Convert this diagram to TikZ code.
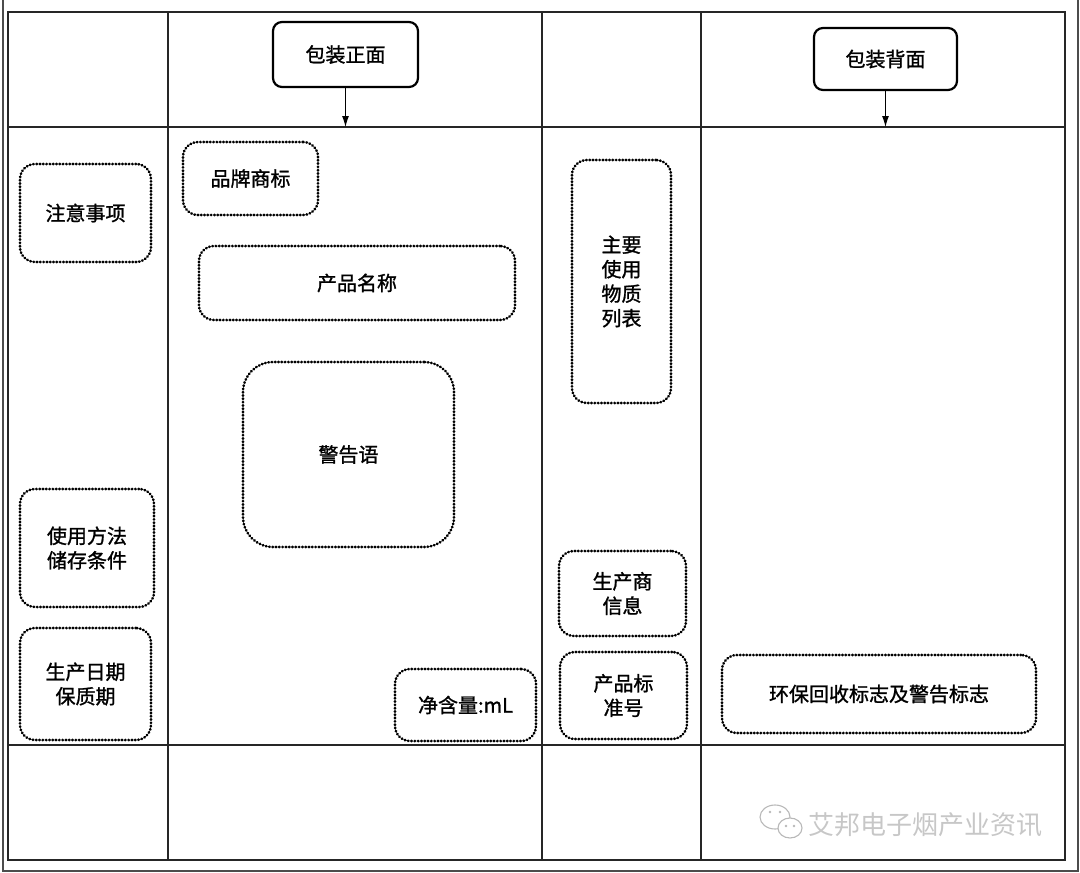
\documentclass[tikz,border=0pt]{standalone}
\usepackage{fontspec}
\newfontfamily\cjk[FakeBold=1.2]{Noto Sans CJK SC}
\newfontfamily\cjkwm{Noto Sans CJK SC}
\usetikzlibrary{arrows.meta}
\begin{document}
\begin{tikzpicture}[x=1pt,y=-1pt,
  gridline/.style={line width=1.4pt, draw=black!85},
  frameline/.style={line width=2pt, draw=black!70},
  headbox/.style={draw, line width=2.2pt, rounded corners=9pt, inner sep=0pt,
    font=\cjk\fontsize{20}{24}\selectfont},
  dotbox/.style={draw, line width=2.6pt, dash pattern=on 0.6pt off 2.7pt, line cap=round,
    rounded corners=15pt, inner sep=0pt, align=center,
    font=\cjk\fontsize{20}{24.5}\selectfont},
  arr/.style={-{Latex[length=11pt,width=7pt]}, line width=1pt},
  wm/.style={draw=black!28, line width=1.1pt}]
\useasboundingbox (0,0) rectangle (1080,873);
% outer frame
\draw[frameline] (2.5,0) -- (2.5,871) -- (1078,871) -- (1078,0);
% table grid
\draw[gridline] (8,12) rectangle (1065,860);
\foreach \x in {168,542,701} \draw[gridline] (\x,12) -- (\x,860);
\foreach \y in {127,745} \draw[gridline] (8,\y) -- (1065,\y);
% header boxes
\node[headbox, minimum width=145pt, minimum height=65pt] (front) at (345.5,54.5) {包装正面};
\node[headbox, minimum width=143pt, minimum height=62pt] (back) at (885.5,59) {包装背面};
\coordinate (ft) at (front.south |- 0,127);
\coordinate (bt) at (back.south |- 0,127);
\draw[arr] (front.south) -- (ft);
\draw[arr] (back.south) -- (bt);
% dotted boxes
\node[dotbox, minimum width=131pt, minimum height=98pt] (zhuyi) at (85.5,213) {注意事项};
\node[dotbox, minimum width=135pt, minimum height=73pt] (pinpai) at (250.5,178.5) {品牌商标};
\node[dotbox, minimum width=316pt, minimum height=74pt] (mingcheng) at (357,283) {产品名称};
\node[dotbox, minimum width=211pt, minimum height=185pt, rounded corners=30pt] (jinggao) at (348.5,454.5) {警告语};
\node[dotbox, minimum width=99pt, minimum height=243pt] (wuzhi) at (621.5,281.5) {主要\\使用\\物质\\列表};
\node[dotbox, minimum width=134pt, minimum height=118pt] (shiyong) at (87,548) {使用方法\\储存条件};
\node[dotbox, minimum width=131pt, minimum height=112pt] (riqi) at (85.5,684) {生产日期\\保质期};
\node[dotbox, minimum width=141pt, minimum height=72pt] (jinghan) at (465.5,705) {净含量:mL};
\node[dotbox, minimum width=127pt, minimum height=87pt] (biaozhun) at (623.5,695.5) {产品标\\准号};
\node[dotbox, minimum width=127pt, minimum height=85pt] (shengchan) at (622.5,593.5) {生产商\\信息};
\node[dotbox, minimum width=314pt, minimum height=78pt] (huanbao) at (879,694) {环保回收标志及警告标志};
% watermark
\node[text=black!22, font=\cjkwm\fontsize{26}{30}\selectfont, inner sep=0pt] (wmtext) at (925,825) {艾邦电子烟产业资讯};
\draw[wm] (775,817) ellipse [x radius=15pt, y radius=12pt];
\draw[wm, fill=white] (790,828) ellipse [x radius=12pt, y radius=10pt];
\fill[black!28] (770,812) circle (1.4pt) (780,812) circle (1.4pt) (786,826) circle (1.3pt) (794,826) circle (1.3pt);
\end{tikzpicture}
\end{document}
